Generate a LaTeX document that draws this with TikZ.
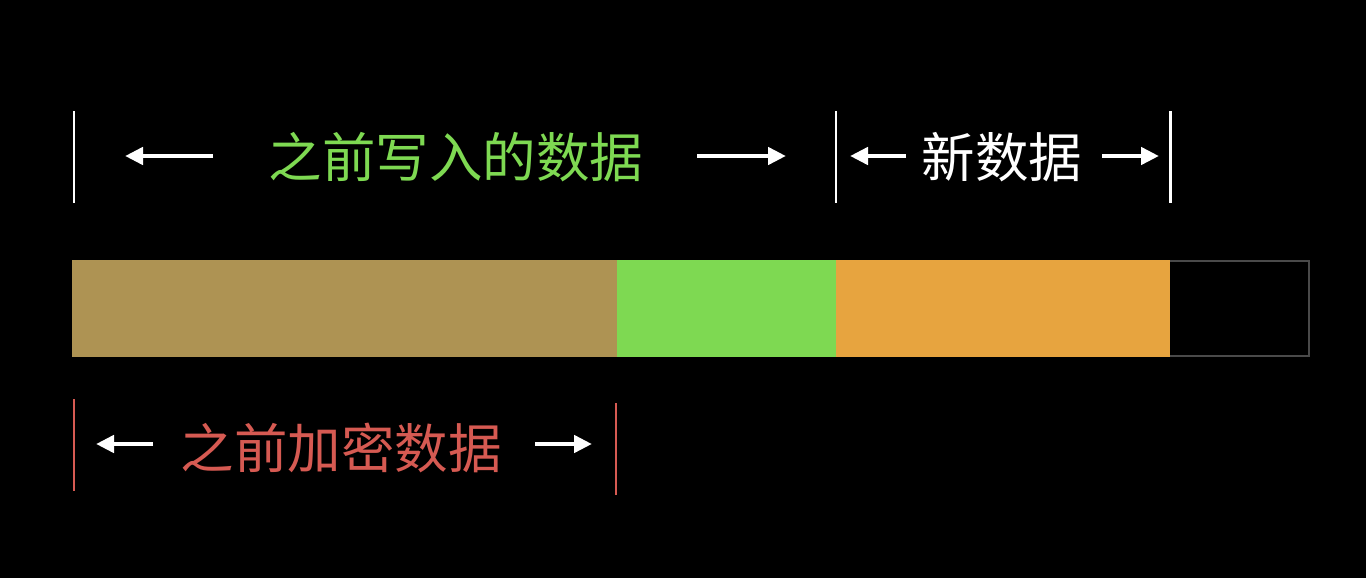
\documentclass[tikz,border=0pt]{standalone}
\usepackage{fontspec}
\newfontfamily\cjk{Noto Sans CJK SC}
\usetikzlibrary{arrows.meta}
\definecolor{tanc}{HTML}{AE9353}
\definecolor{greenc}{HTML}{7ED952}
\definecolor{orangec}{HTML}{E7A43F}
\definecolor{redc}{HTML}{D65A52}
\definecolor{edgec}{HTML}{4A4A4A}
\tikzset{
  tick/.style={line width=2pt},
  dimarrow/.style={white,line width=4.5pt,-{Triangle[length=18pt,width=17pt]}},
  lbl/.style={font=\cjk\fontsize{53.5}{53.5}\selectfont,inner sep=0pt,anchor=center},
  seg/.style={draw=none,inner sep=0pt,minimum height=97pt}
}
\begin{document}
\begin{tikzpicture}[x=1pt,y=-1pt]
\fill[black] (0,0) rectangle (1366,578);
\useasboundingbox (0,0) rectangle (1366,578);
% top row
\coordinate (t1a) at (74,111); \coordinate (t1b) at (74,203);
\coordinate (t2a) at (836,111); \coordinate (t2b) at (836,203);
\coordinate (t3a) at (1170,111); \coordinate (t3b) at (1170,203);
\draw[white,tick] (t1a) -- (t1b);
\draw[white,tick] (t2a) -- (t2b);
\draw[white,line width=3pt] (t3a) -- (t3b);
\node[lbl,text=greenc] (old) at (456,157) {之前写入的数据};
\coordinate (a1s) at (213,156); \coordinate (a1e) at (125,156);
\coordinate (a2s) at (697,156); \coordinate (a2e) at (786,156);
\draw[dimarrow] (a1s) -- (a1e);
\draw[dimarrow] (a2s) -- (a2e);
\node[lbl,text=white] (new) at (1002,157) {新数据};
\coordinate (a3s) at (906,156); \coordinate (a3e) at (850,156);
\coordinate (a4s) at (1102,156); \coordinate (a4e) at (1159,156);
\draw[dimarrow] (a3s) -- (a3e);
\draw[dimarrow] (a4s) -- (a4e);
% bar
\fill[tanc] (72,260) rectangle (617,357);
\fill[greenc] (617,260) rectangle (836,357);
\fill[orangec] (836,260) rectangle (1170,357);
\draw[edgec,line width=2pt] (1170,261) -- (1309,261) -- (1309,356) -- (1170,356);
% bottom row
\coordinate (b1a) at (74,399); \coordinate (b1b) at (74,491);
\coordinate (b2a) at (616,403); \coordinate (b2b) at (616,495);
\draw[redc,tick] (b1a) -- (b1b);
\draw[redc,tick] (b2a) -- (b2b);
\node[lbl,text=redc] (enc) at (341,448) {之前加密数据};
\coordinate (a5s) at (153,444); \coordinate (a5e) at (96,444);
\coordinate (a6s) at (535,444); \coordinate (a6e) at (592,444);
\draw[dimarrow] (a5s) -- (a5e);
\draw[dimarrow] (a6s) -- (a6e);
\end{tikzpicture}
\end{document}
